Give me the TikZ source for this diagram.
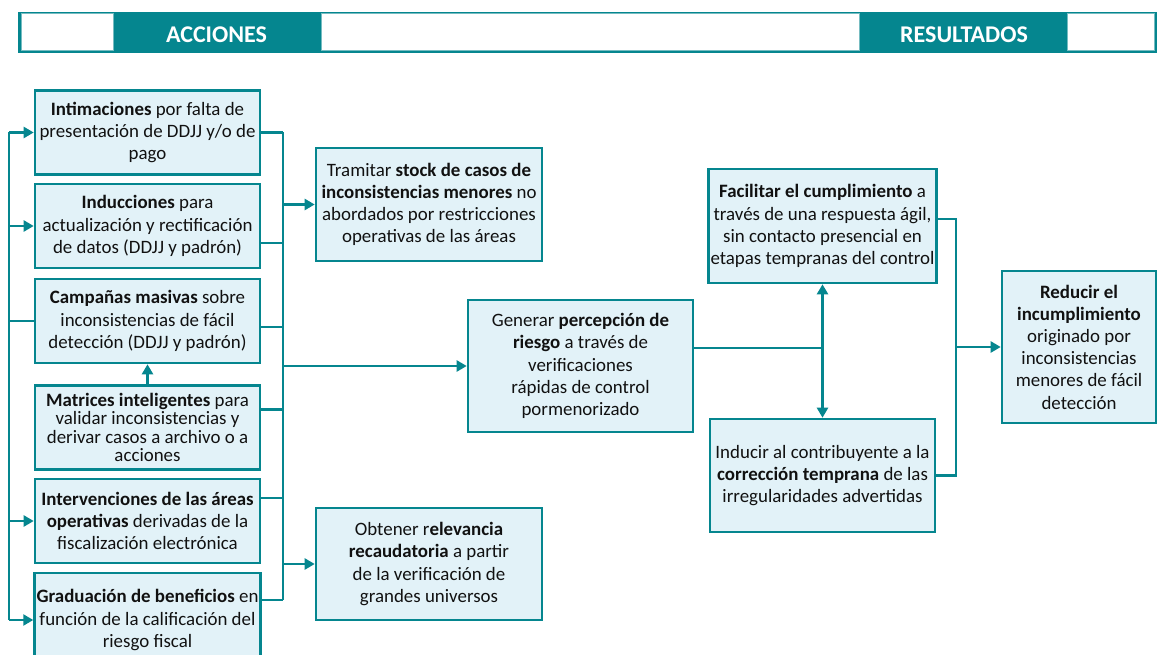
\documentclass[tikz,border=0pt]{standalone}
\usepackage{fontspec}
\setmainfont{Carlito}
\usetikzlibrary{arrows.meta, positioning, calc}
\definecolor{cteal}{HTML}{05868F}
\definecolor{clight}{HTML}{E2F2F8}
\definecolor{ctext}{HTML}{111111}
\tikzset{
  every picture/.style={font=\fontsize{18.9}{22.2}\selectfont, line width=2.3pt},
  box/.style={draw=cteal, fill=clight, line width=2.6pt, align=center, inner sep=2pt, text=ctext},
  arrow/.style={-{Triangle[length=10pt, width=11pt]}, draw=cteal, line width=2.3pt},
  dblarrow/.style={{Triangle[length=10pt, width=11pt]}-{Triangle[length=10pt, width=11pt]}, draw=cteal, line width=2.3pt},
  link/.style={draw=cteal, line width=2.3pt},
  head/.style={font=\fontsize{24}{26}\selectfont\bfseries, text=white},
  cell/.style={fill=white, draw=cteal!55, line width=1pt},
}

\begin{document}
\begin{tikzpicture}[x=1pt, y=-1pt,
  a/.style={box, minimum width=225pt, minimum height=84pt},
  r/.style={box, minimum width=226pt, minimum height=113pt}]
  \useasboundingbox (0,0) rectangle (1158,655);
  % ---------- header
  \fill[cteal] (18,12) rectangle (1157,53);
  \draw[cell] (21,14) rectangle (113,51);
  \draw[cell] (321,14) rectangle (859,51);
  \draw[cell] (1067,14) rectangle (1154,51);
  \node[head] (hacc) at (216.5,35) {ACCIONES};
  \node[head] (hres) at (964,35) {RESULTADOS};
  % ---------- acciones
  \node[a] (b1) at (147.5,132.5) {\textbf{Intimaciones} por falta de\\presentación de DDJJ y/o de\\pago};
  \node[a] (b2) at (147.5,226) {\textbf{Inducciones} para\\actualización y rectificación\\de datos (DDJJ y padrón)};
  \node[a] (b3) at (147.5,321) {\textbf{Campañas masivas} sobre\\inconsistencias de fácil\\detección (DDJJ y padrón)};
  \node[a, font=\fontsize{18.9}{18.5}\selectfont] (b4) at (147.5,427.5) {\textbf{Matrices inteligentes} para\\validar inconsistencias y\\derivar casos a archivo o a\\acciones};
  \node[a] (b5) at (147.5,521) {\textbf{Intervenciones de las áreas}\\\textbf{operativas} derivadas de la\\fiscalización electrónica};
  \node[a, minimum height=94pt] (b6) at (147.5,620) {\textbf{Graduación de beneficios} en\\función de la calificación del\\riesgo fiscal};
  % ---------- objetivos
  \node[r] (tra) at (429,204.5) {Tramitar \textbf{stock de casos de}\\\textbf{inconsistencias menores} no\\abordados por restricciones\\operativas de las áreas};
  \node[r, minimum width=225pt, minimum height=132pt] (gen) at (580.5,366) {Generar \textbf{percepción de}\\\textbf{riesgo} a través de\\verificaciones\\rápidas de control\\pormenorizado};
  \node[r, minimum height=112pt] (obt) at (429,564) {Obtener r\textbf{elevancia}\\\textbf{recaudatoria} a partir\\de la verificación de\\grandes universos};
  % ---------- resultados
  \node[r, minimum width=225pt, minimum height=114pt] (fac) at (822.5,226) {\textbf{Facilitar el cumplimiento} a\\través de una respuesta ágil,\\sin contacto presencial en\\etapas tempranas del control};
  \node[r, minimum width=225pt] (ind) at (822.5,475.5) {Inducir al contribuyente a la\\\textbf{corrección temprana} de las\\irregularidades advertidas};
  \node[box, minimum width=154pt, minimum height=152pt] (red) at (1079,347) {\textbf{Reducir el}\\\textbf{incumplimiento}\\originado por\\inconsistencias\\menores de fácil\\detección};
  % ---------- connectors
  \coordinate (lbus) at (9,0);
  \coordinate (rbus) at (283,0);
  \coordinate (obus) at (956,0);
  \draw[link] (b3.west) -- (b3.west -| lbus);
  \draw[link] (b1.west -| lbus) -- (b6.west -| lbus);
  \foreach \i in {1,2,5,6} \draw[arrow] (b\i.west -| lbus) -- (b\i.west);
  \draw[arrow] (b4.north) -- (b3.south);
  \foreach \i/\d in {1/0,2/-17,3/-6,4/18,5/23,6/20}
    \draw[link] ([yshift=\d pt]b\i.east) coordinate (p\i) -- (p\i -| rbus);
  \draw[link] (p1 -| rbus) -- (p6 -| rbus);
  \foreach \n in {tra,gen,obt} \draw[arrow] (\n.west -| rbus) -- (\n.west);
  \draw[link] ([yshift=18pt]gen.east) coordinate (g1) -- (g1 -| fac.south);
  \draw[dblarrow] (fac.south) -- (ind.north);
  \draw[link] ([yshift=7pt]fac.east) coordinate (f1) -- (f1 -| obus) -- (ind.east -| obus) -- (ind.east);
  \draw[arrow] (red.west -| obus) -- (red.west);
\end{tikzpicture}
\end{document}
